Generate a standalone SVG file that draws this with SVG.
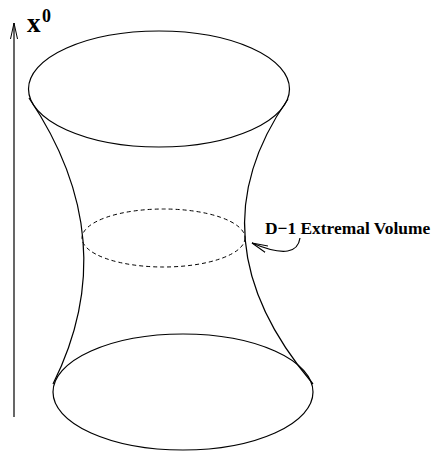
<svg xmlns="http://www.w3.org/2000/svg" width="432" height="453" viewBox="0 0 432 453">
<defs>
<style>
.s{fill:none;stroke:#000;stroke-width:1.2}
.d{fill:none;stroke:#000;stroke-width:1;stroke-dasharray:4,3}
.t{font-family:"Liberation Serif","Times New Roman",serif;font-weight:bold;fill:#000}
</style>
<marker id="open" markerWidth="18" markerHeight="10" refX="16" refY="5" orient="auto" markerUnits="userSpaceOnUse">
<path d="M0,1.5 L16,5 L0,8.5" fill="none" stroke="#000" stroke-width="1"/>
</marker>
</defs>
<rect width="432" height="453" fill="#fff"/>
<g id="axis">
<line class="s" x1="14" y1="417" x2="14" y2="23" marker-end="url(#open)"/>
<text class="t" x="27" y="32" font-size="27">x</text>
<text class="t" x="42" y="22" font-size="18">0</text>
</g>
<g id="top-ellipse"><ellipse class="s" cx="159" cy="89" rx="130.5" ry="58"/></g>
<g id="bottom-ellipse"><ellipse class="s" cx="183" cy="392" rx="130" ry="58"/></g>
<g id="extremal-ellipse"><ellipse class="d" cx="163.5" cy="238" rx="81.5" ry="29"/></g>
<g id="sides">
<path class="s" d="M29,98 Q125,240 53,384"/>
<path class="s" d="M288,99 Q190,239 313,384"/>
</g>
<g id="label">
<text class="t" x="265" y="234" font-size="17.4">D−1 Extremal Volume</text>
</g>
<g id="connectors">
<path class="s" d="M300,238 C298,252 285,257 252,243" marker-end="url(#open)"/>
</g>
</svg>
